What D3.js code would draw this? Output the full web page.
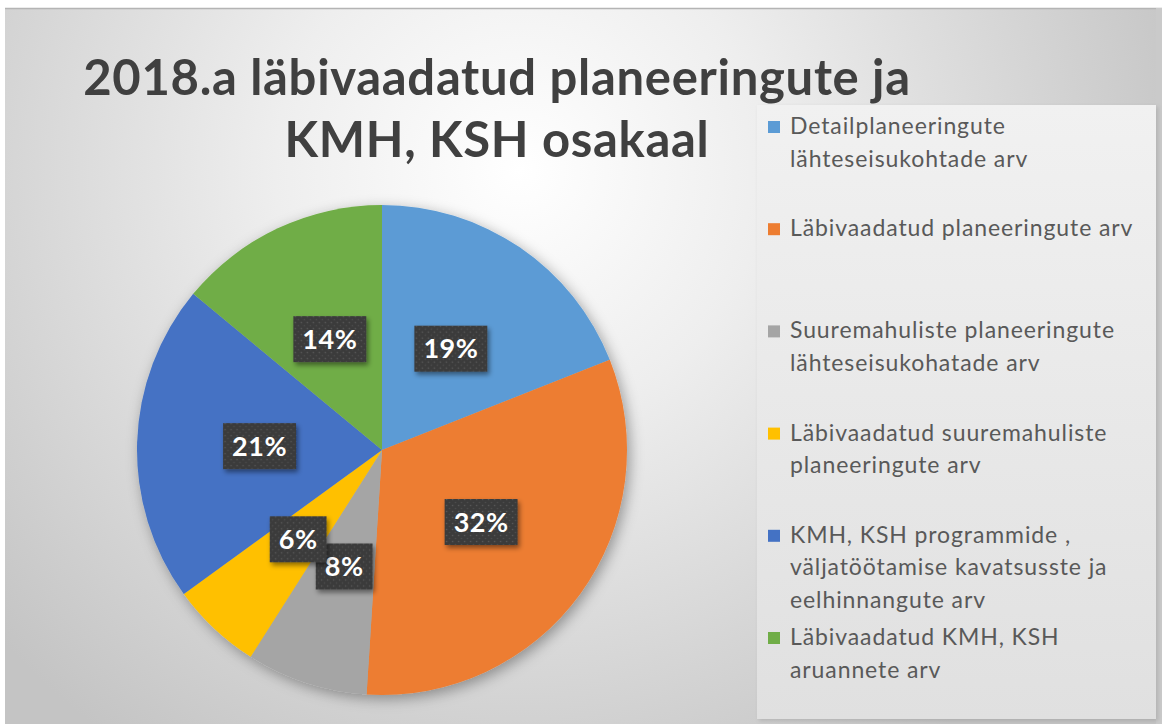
<!DOCTYPE html>
<html>
<head>
<meta charset="utf-8">
<script src="https://cdn.jsdelivr.net/npm/d3@7"></script>
<style>
  body { margin: 0; background: #fff; }
  svg { display: block; }
</style>
</head>
<body>
<svg id="chart" width="1167" height="724"></svg>
<script>
// chart data
const categories = [
    ["Detailplaneeringute", "lähteseisukohtade arv"],
    ["Läbivaadatud planeeringute arv"],
    ["Suuremahuliste planeeringute", "lähteseisukohatade arv"],
    ["Läbivaadatud suuremahuliste", "planeeringute arv"],
    ["KMH, KSH programmide ,", "väljatöötamise kavatsusste ja", "eelhinnangute arv"],
    ["Läbivaadatud KMH, KSH", "aruannete arv"]
];
const shares = [19, 32, 8, 6, 21, 14];
const colors = ["#5B9BD5", "#ED7D31", "#A5A5A5", "#FFC000", "#4472C4", "#70AD47"];
const titleLines = ["2018.a läbivaadatud planeeringute ja", "KMH, KSH osakaal"];

const svg = d3.select("#chart");
const font = "Lato, 'Open Sans', sans-serif";

const defs = svg.append("defs");

const bg = defs.append("radialGradient")
    .attr("id", "bg").attr("gradientUnits", "userSpaceOnUse")
    .attr("cx", 520).attr("cy", 170).attr("r", 700);
bg.append("stop").attr("offset", "0").attr("stop-color", "#ffffff");
bg.append("stop").attr("offset", "0.35").attr("stop-color", "#eeeeee");
bg.append("stop").attr("offset", "1").attr("stop-color", "#c4c4c4");

const lg = defs.append("linearGradient").attr("id", "lg")
    .attr("x1", 0).attr("y1", 0).attr("x2", 0).attr("y2", 1);
lg.append("stop").attr("offset", "0").attr("stop-color", "#f1f1f1");
lg.append("stop").attr("offset", "1").attr("stop-color", "#e0e0e0");

const pieShadow = defs.append("filter").attr("id", "pieShadow")
    .attr("x", "-20%").attr("y", "-20%").attr("width", "140%").attr("height", "140%");
pieShadow.append("feDropShadow").attr("dx", 3).attr("dy", 4)
    .attr("stdDeviation", 7).attr("flood-color", "#000").attr("flood-opacity", 0.35);

const boxShadow = defs.append("filter").attr("id", "boxShadow")
    .attr("x", "-30%").attr("y", "-30%").attr("width", "160%").attr("height", "160%");
boxShadow.append("feDropShadow").attr("dx", 2).attr("dy", 3)
    .attr("stdDeviation", 2.5).attr("flood-color", "#000").attr("flood-opacity", 0.45);

const legShadow = defs.append("filter").attr("id", "legShadow")
    .attr("x", "-5%").attr("y", "-5%").attr("width", "110%").attr("height", "110%");
legShadow.append("feDropShadow").attr("dx", 2).attr("dy", 2)
    .attr("stdDeviation", 2).attr("flood-color", "#000").attr("flood-opacity", 0.12);

const dots = defs.append("pattern").attr("id", "dots")
    .attr("patternUnits", "userSpaceOnUse").attr("width", 6).attr("height", 6);
dots.append("rect").attr("width", 6).attr("height", 6).attr("fill", "#3b3b3b");
dots.append("circle").attr("cx", 1.5).attr("cy", 1.5).attr("r", 0.8).attr("fill", "#5a5a5a");
dots.append("circle").attr("cx", 4.5).attr("cy", 4.5).attr("r", 0.8).attr("fill", "#4d4d4d");

// chart area
svg.append("rect").attr("x", 5).attr("y", 8).attr("width", 1157).attr("height", 716)
    .attr("fill", "url(#bg)");
svg.append("line").attr("x1", 5).attr("x2", 1162).attr("y1", 8.5).attr("y2", 8.5)
    .attr("stroke", "#b4b4b4").attr("stroke-width", 1.5);
svg.append("rect").attr("x", 1156).attr("y", 8).attr("width", 6).attr("height", 716)
    .attr("fill", "#cacaca");

// title
const title = svg.append("g").attr("fill", "#404040")
    .attr("font-family", font).attr("font-weight", "bold")
    .attr("font-size", 49).attr("letter-spacing", 0.7).attr("text-anchor", "middle");
title.selectAll("text").data(titleLines).join("text")
    .attr("x", 497)
    .attr("y", (d, i) => 95 + i * 62)
    .text(d => d);

// legend
const legend = svg.append("g");
legend.append("rect").attr("x", 757).attr("y", 105).attr("width", 399).attr("height", 614)
    .attr("fill", "url(#lg)").attr("filter", "url(#legShadow)");

const legY = d3.scaleLinear().domain([0, categories.length - 1]).range([134, 645]);
const lineH = 32.5;

const items = legend.selectAll("g.item").data(categories).join("g")
    .attr("class", "item")
    .attr("transform", (d, i) => `translate(768,${legY(i)})`);
items.append("rect").attr("x", 0).attr("y", -13).attr("width", 12).attr("height", 12)
    .attr("fill", (d, i) => colors[i]);
items.append("text")
    .attr("font-family", font).attr("font-size", 23).attr("letter-spacing", 0.9)
    .attr("fill", "#595959")
    .selectAll("tspan").data(d => d).join("tspan")
    .attr("x", 22)
    .attr("y", (d, j) => j * lineH)
    .text(d => d);

// pie
const cx = 382, cy = 450, R = 245;
const pie = d3.pie().sort(null).value(d => d);
const arcs = pie(shares);
const arc = d3.arc().innerRadius(0).outerRadius(R);

const pg = svg.append("g").attr("transform", `translate(${cx},${cy})`);
pg.append("g").attr("filter", "url(#pieShadow)")
    .selectAll("path").data(arcs).join("path")
    .attr("d", arc)
    .attr("fill", (d, i) => colors[i]);

const fmt = d3.format(".0%");
const total = d3.sum(shares);
const labels = pg.selectAll("g.lab").data(arcs).join("g")
    .attr("class", "lab")
    .attr("transform", d => `translate(${arc.centroid(d)})`);

labels.each(function(d) {
    const g = d3.select(this);
    const t = g.append("text")
        .attr("font-family", font).attr("font-weight", "bold")
        .attr("font-size", 27).attr("letter-spacing", 0.5).attr("fill", "#ffffff")
        .attr("text-anchor", "middle").attr("dy", "0.36em")
        .text(fmt(d.value / total));
    const w = t.node().getComputedTextLength() + 18;
    g.insert("rect", "text")
        .attr("x", -w / 2).attr("y", -23).attr("width", w).attr("height", 46)
        .attr("fill", "url(#dots)").attr("filter", "url(#boxShadow)");
});
</script>
</body>
</html>
